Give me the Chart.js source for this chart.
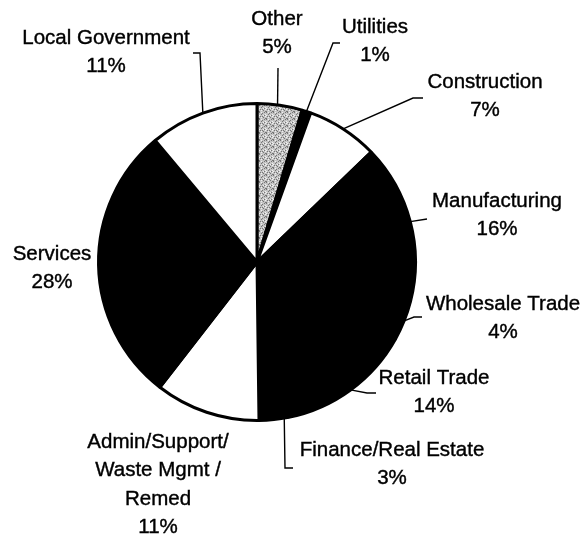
<!DOCTYPE html>
<html>
<head>
<meta charset="utf-8">
<script src="https://cdn.jsdelivr.net/npm/chart.js@4.4.0/dist/chart.umd.min.js"></script>
<style>
    html, body { margin: 0; padding: 0; background: #ffffff; }
    #wrap { width: 583px; height: 534px; }
</style>
</head>
<body>
<div id="wrap"><canvas id="industryChart" width="583" height="534"></canvas></div>
<script>
// Data (shares, labels show the rounded percent)
const categories = [
    'Other',
    'Utilities',
    'Construction',
    'Manufacturing',
    'Wholesale Trade',
    'Retail Trade',
    'Finance/Real Estate',
    ['Admin/Support/', 'Waste Mgmt /', 'Remed'],
    'Services',
    'Local Government'
];
const shares = [4.6, 0.9, 7.3, 16.2, 4.1, 13.7, 3.0, 10.7, 28.4, 11.1];

// Slice fills
const sliceColors = ['pattern', '#000000', '#ffffff', '#000000', '#000000', '#000000', '#000000', '#ffffff', '#000000', '#ffffff'];

// Label layout: text centre (x, first line y)
const labelPos = [
    [277, 19], [375, 27], [485, 82], [497, 201], [503, 304],
    [434, 378], [392, 450], [158, 442], [52, 254], [106, 38]
];
// Leader lines: bend points after the start on the slice edge
const leaderPoints = [
    [[278, 68]],
    [[333, 43], [340, 43]],
    [[413, 98], [423, 98]],
    [[427, 219]],
    [[414, 317], [422, 317]],
    [[367, 393], [376, 393]],
    [[285, 468], [293, 468]],
    [],
    [],
    [[200, 53], [193, 53]]
];
// where on the slice edge each leader starts (0..1 across the slice)
const leaderAt = [0.45, 0.5, 0.5, 0.5, 0.5, 0.5, 0.15, 0.5, 0.5, 0.5];

const LINE_HEIGHT = 28.6;
const FONT = '20.5px "Liberation Sans", Arial, sans-serif';

document.addEventListener('DOMContentLoaded', function() {
    initIndustryChart();
});

function makeStipple() {
    // scattered grey dots for the "Other" slice
    const dark = [[0, 0], [3, 1], [5, 3], [1, 4], [4, 5], [2, 2], [6, 6], [0, 6], [5, 0], [3, 4]];
    const light = [[2, 0], [6, 2], [0, 3], [4, 3], [2, 5], [6, 4]];
    const c = document.createElement('canvas');
    c.width = 7;
    c.height = 7;
    const g = c.getContext('2d');
    g.fillStyle = '#c4c4c4';
    g.fillRect(0, 0, 7, 7);
    g.fillStyle = '#767676';
    dark.forEach(d => g.fillRect(d[0], d[1], 1, 1));
    g.fillStyle = '#f0f0f0';
    light.forEach(d => g.fillRect(d[0], d[1], 1, 1));
    return g.createPattern(c, 'repeat');
}

const outsideLabels = {
    id: 'outsideLabels',
    afterDatasetsDraw(chart) {
        const ctx = chart.ctx;
        const meta = chart.getDatasetMeta(0);
        const total = shares.reduce((a, b) => a + b, 0);

        ctx.save();
        ctx.strokeStyle = '#000000';
        ctx.lineWidth = 1.4;
        meta.data.forEach((arc, i) => {
            const pts = leaderPoints[i];
            if (!pts.length) return;
            const p = arc.getProps(['x', 'y', 'startAngle', 'endAngle', 'outerRadius'], true);
            const a = p.startAngle + (p.endAngle - p.startAngle) * leaderAt[i];
            ctx.beginPath();
            ctx.moveTo(p.x + Math.cos(a) * p.outerRadius, p.y + Math.sin(a) * p.outerRadius);
            pts.forEach(pt => ctx.lineTo(pt[0], pt[1]));
            ctx.stroke();
        });

        // text, with a thin stroke so it reads as heavy as the scan
        ctx.fillStyle = '#000000';
        ctx.lineWidth = 0.4;
        ctx.font = FONT;
        ctx.textAlign = 'center';
        ctx.textBaseline = 'middle';
        categories.forEach((name, i) => {
            const lines = Array.isArray(name) ? name.slice() : [name];
            lines.push(Math.round(shares[i] / total * 100) + '%');
            lines.forEach((t, k) => {
                const y = labelPos[i][1] + k * LINE_HEIGHT;
                ctx.fillText(t, labelPos[i][0], y);
                ctx.strokeText(t, labelPos[i][0], y);
            });
        });
        ctx.restore();
    }
};

function initIndustryChart() {
    const ctx = document.getElementById('industryChart').getContext('2d');
    const stipple = makeStipple();

    new Chart(ctx, {
        type: 'pie',
        data: {
            labels: categories,
            datasets: [{
                data: shares,
                backgroundColor: sliceColors.map(c => c === 'pattern' ? stipple : c),
                borderColor: '#000000',
                borderWidth: 3,
                hoverOffset: 0
            }]
        },
        options: {
            responsive: false,
            animation: false,
            events: [],
            layout: {
                padding: { left: 97, right: 166, top: 102, bottom: 112 }
            },
            plugins: {
                legend: { display: false },
                tooltip: { enabled: false }
            }
        },
        plugins: [outsideLabels]
    });
}
</script>
</body>
</html>
